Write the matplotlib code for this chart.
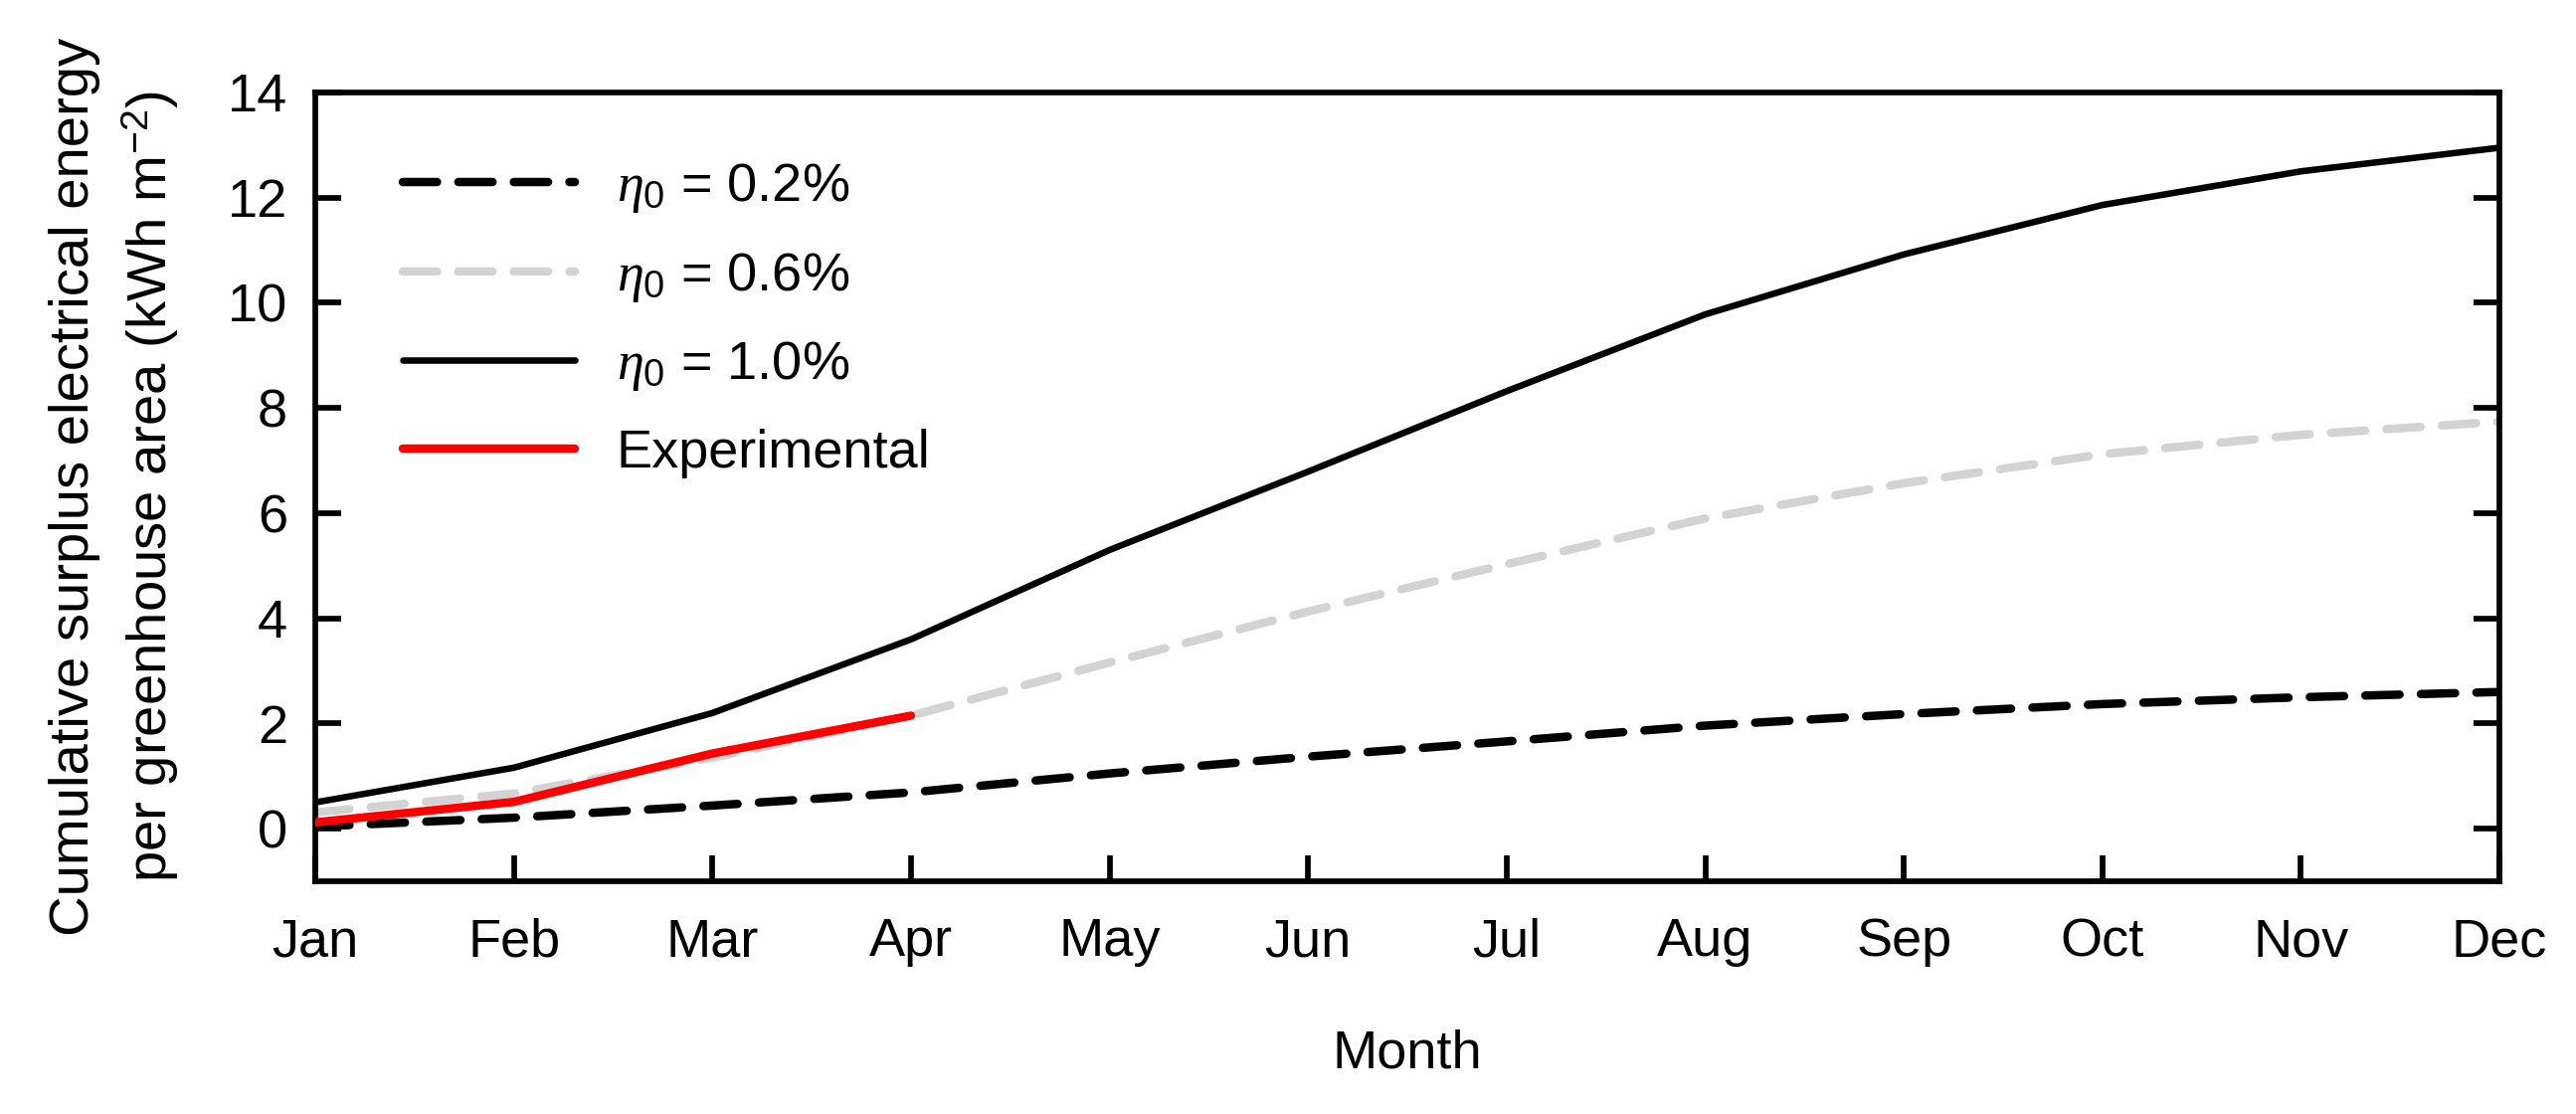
import matplotlib
matplotlib.use("Agg")
import matplotlib.pyplot as plt

plt.rcParams['font.family'] = ['Liberation Sans', 'DejaVu Sans']
plt.rcParams['mathtext.fontset'] = 'custom'
plt.rcParams['mathtext.rm'] = 'Liberation Sans'
plt.rcParams['mathtext.it'] = 'Liberation Serif:italic'

months = ['Jan', 'Feb', 'Mar', 'Apr', 'May', 'Jun', 'Jul', 'Aug', 'Sep', 'Oct', 'Nov', 'Dec']
# cumulative surplus energy, kWh m-2
eta_02 = [0.04, 0.21, 0.44, 0.69, 1.05, 1.37, 1.66, 1.96, 2.18, 2.37, 2.50, 2.60]
eta_06 = [0.31, 0.67, 1.35, 2.15, 3.16, 4.13, 5.03, 5.90, 6.57, 7.12, 7.49, 7.74]
eta_10 = [0.50, 1.16, 2.20, 3.60, 5.30, 6.79, 8.32, 9.78, 10.92, 11.86, 12.50, 12.95]
exp_months = ['Jan', 'Feb', 'Mar', 'Apr']
experimental = [0.12, 0.51, 1.43, 2.15]

fs = 39
dash = (0, (4.06, 2.53))
x = list(range(len(months)))
x_exp = [months.index(m) for m in exp_months]

fig = plt.figure(figsize=(25.9, 11.2), dpi=100)
ax = fig.add_axes([0.1224, 0.2089, 0.8479, 0.7081])

ax.plot(x, eta_10, color='black', lw=4.7, solid_capstyle='round', label=r'$\eta_\mathrm{0}$ = 1.0%', zorder=3)
ax.plot(x, eta_06, color='lightgray', lw=6.1, linestyle=dash, dash_capstyle='round',
        label=r'$\eta_\mathrm{0}$ = 0.6%', zorder=2)
ax.plot(x, eta_02, color='black', lw=6.1, linestyle=dash, dash_capstyle='round',
        label=r'$\eta_\mathrm{0}$ = 0.2%', zorder=2)
ax.plot(x_exp, experimental, color='red', lw=6.1, solid_capstyle='round', label='Experimental', zorder=4)

ax.set_xlim(0, 11)
ax.set_ylim(-1, 14)
ax.set_xticks(x)
ax.set_xticklabels(months)
ax.set_yticks(range(0, 15, 2))

for s in ax.spines.values():
    s.set_linewidth(4.1)
ax.tick_params(axis='both', direction='in', length=18.7, width=4.1, labelsize=fs)
ax.tick_params(axis='y', right=True, pad=20)
ax.tick_params(axis='x', pad=26)

ax.set_xlabel('Month', fontsize=fs)
ax.xaxis.set_label_coords(0.5, -0.187)
ax.set_ylabel('Cumulative surplus electrical energy\nper greenhouse area (kWh m$^{\\mathrm{-2}}$)',
              fontsize=40.5, linespacing=1.4)
ax.yaxis.set_label_coords(-0.0615, 0.5)

# legend order
h, l = ax.get_legend_handles_labels()
order = [2, 1, 0, 3]
ax.legend([h[i] for i in order], [l[i] for i in order], loc='upper left', bbox_to_anchor=(0.04, 0.913),
          frameon=False, fontsize=fs, handlelength=3.19, handletextpad=0.78, labelspacing=0.66,
          borderpad=0, borderaxespad=0)

plt.savefig('out.png', dpi=100)
